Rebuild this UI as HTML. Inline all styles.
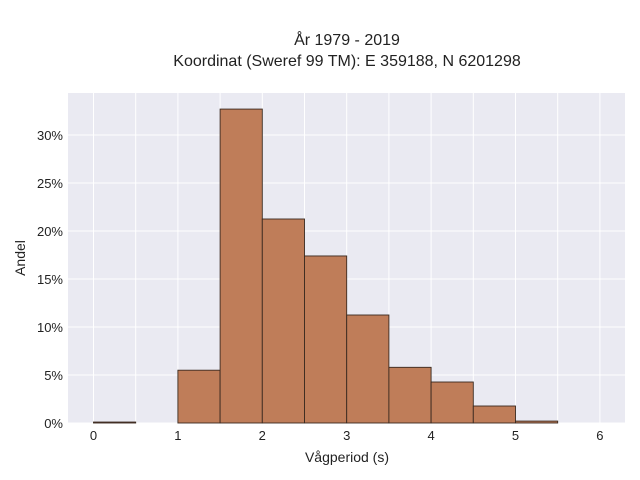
<!DOCTYPE html>
<html><head><meta charset="utf-8"><style>
body{margin:0;background:#fff;}
svg{display:block;font-family:"Liberation Sans",sans-serif;}
</style></head><body>
<svg id="chart" width="640" height="480">
<text x="347" y="45" text-anchor="middle" font-size="16" fill="#222">År 1979 - 2019</text>
<text x="347" y="66" text-anchor="middle" font-size="16" fill="#222">Koordinat (Sweref 99 TM): E 359188, N 6201298</text>
<rect x="68" y="93" width="557" height="330" fill="#eaeaf2"/>
<g id="grid"></g><g id="bars"></g><g id="ticks"></g>
<text x="347" y="462" text-anchor="middle" font-size="14" fill="#222">Vågperiod (s)</text>
<text transform="translate(25,258) rotate(-90)" text-anchor="middle" font-size="14" fill="#222">Andel</text>
</svg>
<script>
const binStarts=[0,0.5,1,1.5,2,2.5,3,3.5,4,4.5,5];
const binWidth=0.5;
const shares=[0.1,0,5.5,32.7,21.25,17.4,11.25,5.8,4.27,1.77,0.2];
const xTicks=[0,1,2,3,4,5,6];
const yTicks=[0,5,10,15,20,25,30];
const NS="http://www.w3.org/2000/svg";
const X=v=>93.5+v*84.4;
const Y=v=>423-v*9.6;
const grid=document.getElementById('grid'),bars=document.getElementById('bars'),ticks=document.getElementById('ticks');
for(let v=0;v<=6;v+=0.5){
 const l=document.createElementNS(NS,'line');
 
 
 l.setAttribute('x1',X(v));l.setAttribute('x2',X(v));l.setAttribute('y1',93);l.setAttribute('y2',423);
 l.setAttribute('stroke','#fff');l.setAttribute('stroke-width',1);grid.appendChild(l);
}
yTicks.forEach(v=>{
 const l=document.createElementNS(NS,'line');
 
 
 l.setAttribute('x1',68);l.setAttribute('x2',625);l.setAttribute('y1',Y(v));l.setAttribute('y2',Y(v));
 l.setAttribute('stroke','#fff');grid.appendChild(l);
 const t=document.createElementNS(NS,'text');
 
 
 t.setAttribute('x',63);t.setAttribute('y',Y(v)+5);t.setAttribute('text-anchor','end');
 t.setAttribute('font-size','13');t.setAttribute('fill','#222');t.textContent=v+'%';ticks.appendChild(t);
});
xTicks.forEach(v=>{
 const t=document.createElementNS(NS,'text');
 
 
 t.setAttribute('x',X(v));t.setAttribute('y',440);t.setAttribute('text-anchor','middle');
 t.setAttribute('font-size','13');t.setAttribute('fill','#222');t.textContent=v;ticks.appendChild(t);
});
binStarts.forEach((s,i)=>{
 if(shares[i]<=0)return;
 const r=document.createElementNS(NS,'rect');
 
 
 r.setAttribute('x',X(s));r.setAttribute('width',X(s+binWidth)-X(s));
 r.setAttribute('y',Y(shares[i]));r.setAttribute('height',Y(0)-Y(shares[i]));
 r.setAttribute('fill','#bf7d59');r.setAttribute('stroke','#3a2a20');r.setAttribute('stroke-width','0.9');
 bars.appendChild(r);
});
</script>
</body></html>
